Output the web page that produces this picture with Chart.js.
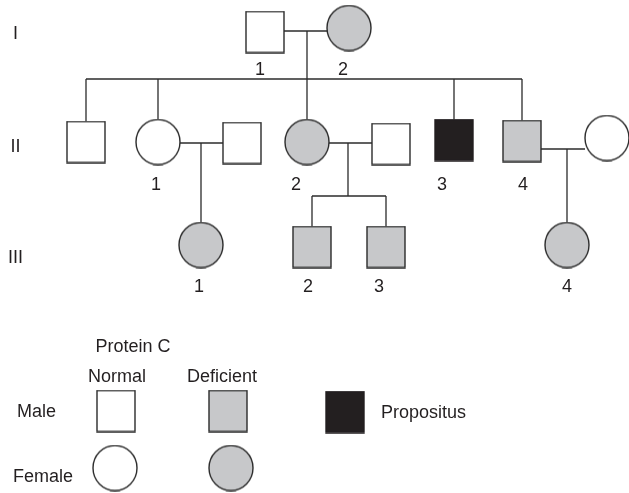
<!DOCTYPE html>
<html>
<head>
<meta charset="utf-8">
<title>Protein C pedigree</title>
<script src="https://cdn.jsdelivr.net/npm/chart.js@4.4.1/dist/chart.umd.min.js"></script>
<style>
  html, body { margin: 0; padding: 0; background: #fff; }
  #pedigree { display: block; }
</style>
</head>
<body>
<canvas id="pedigree" width="629" height="493"></canvas>
<script>
"use strict";

// Generations (row labels)
var genNames  = ["I", "II", "III"];
var genLabelX = 15.5;
var genLabelY = [34, 147, 258];

// Individuals
var ids       = ["I-1", "I-2", "II-a", "II-1", "II-1s", "II-2", "II-2s", "II-3", "II-4", "II-4s", "III-1", "III-2", "III-3", "III-4"];
var posX      = [265, 349, 86, 158, 242, 307, 391, 454, 522, 607, 201, 312, 386, 567];
var posY      = [32, 28, 142, 142, 143, 142, 144, 140, 141, 138, 245, 247, 247, 245];
var sexes     = ["M", "F", "M", "F", "M", "F", "M", "M", "M", "F", "F", "M", "M", "F"];
var affection = ["normal", "deficient", "normal", "normal", "normal", "deficient", "normal", "propositus", "deficient", "normal", "deficient", "deficient", "deficient", "deficient"];
var numbers   = ["1", "2", "", "1", "", "2", "", "3", "4", "", "1", "2", "3", "4"];
var numX      = [260, 343, 0, 156, 0, 296, 0, 442, 523, 0, 199, 308, 379, 567];
var numY      = [70, 70, 0, 185, 0, 185, 0, 185, 185, 0, 287, 287, 287, 287];

// Families: partners, line of marriage, line of sibship, children
var famPartners  = [["I-1", "I-2"], ["II-1", "II-1s"], ["II-2", "II-2s"], ["II-4", "II-4s"]];
var famMarriageY = [31, 143, 143, 149];
var famDropX     = [307, 201, 348, 567];
var famSibY      = [79, null, 196, null];
var famChildren  = [["II-a", "II-1", "II-2", "II-3", "II-4"], ["III-1"], ["III-2", "III-3"], ["III-4"]];

// Legend
var legendSex    = ["M", "M", "M", "F", "F"];
var legendStatus = ["normal", "deficient", "propositus", "normal", "deficient"];
var legendX      = [116, 228, 345, 115, 231];
var legendY      = [411, 411, 412, 468, 468];
var legendTexts  = ["Protein C", "Normal", "Deficient", "Male", "Female", "Propositus"];
var legendTextX  = [133, 117, 222, 17, 13, 381];
var legendTextY  = [347, 377, 377, 412, 477, 413];
var legendAlign  = ["center", "center", "center", "left", "left", "left"];


// Colours
var INK = "#2b2b2b";
var fills = { normal: "#ffffff", deficient: "#c7c8ca", propositus: "#231f20" };

// Symbol sizes
var SQ_W = 38, SQ_H = 41, CIR_W = 44, CIR_H = 45;

function halfHeight(s) {
    return (s === "M" ? SQ_H : CIR_H) / 2;
}
function halfWidth(s) {
    return (s === "M" ? SQ_W : CIR_W) / 2;
}

// Symbol pictures used as point styles
function makeSymbol(s, st) {
    var w = s === "M" ? SQ_W : CIR_W;
    var h = s === "M" ? SQ_H : CIR_H;
    var c = document.createElement("canvas");
    c.width = w + 2;
    c.height = h + 2;
    var g = c.getContext("2d");
    g.fillStyle = fills[st];
    g.strokeStyle = st === "propositus" ? fills[st] : INK;
    g.lineWidth = 1.4;
    g.beginPath();
    if (s === "M") {
        g.rect(1, 1, w, h);
    } else {
        g.ellipse(c.width / 2, c.height / 2, w / 2, h / 2, 0, 0, Math.PI * 2);
    }
    g.fill();
    g.stroke();
    return c;
}

var symbols = {};
["M", "F"].forEach(function (s) {
    ["normal", "deficient", "propositus"].forEach(function (st) {
        symbols[s + st] = makeSymbol(s, st);
    });
});

function idx(id) {
    return ids.indexOf(id);
}


// Connecting lines built from the families
var segments = [];
famPartners.forEach(function (pair, f) {
    var a = idx(pair[0]), b = idx(pair[1]);
    var left = posX[a] < posX[b] ? a : b;
    var right = left === a ? b : a;
    var my = famMarriageY[f];
    segments.push([{x: posX[left] + halfWidth(sexes[left]), y: my}, {x: posX[right] - halfWidth(sexes[right]), y: my}]);

    var kids = famChildren[f].map(idx);
    if (famSibY[f] === null) {
        var k = kids[0];
        segments.push([{x: posX[k], y: my}, {x: posX[k], y: posY[k] - halfHeight(sexes[k])}]);
        return;
    }
    var sy = famSibY[f];
    var dx = famDropX[f];
    segments.push([{x: dx, y: my}, {x: dx, y: sy}]);
    var xs = kids.map(function (k) { return posX[k]; }).concat([dx]);
    segments.push([{x: Math.min.apply(null, xs), y: sy}, {x: Math.max.apply(null, xs), y: sy}]);
    kids.forEach(function (k) {
        segments.push([{x: posX[k], y: sy}, {x: posX[k], y: posY[k] - halfHeight(sexes[k])}]);
    });
});


// Datasets: symbols first so they sit above the lines
var datasets = [];

ids.forEach(function (id, i) {
    datasets.push({
        label: id,
        data: [{x: posX[i], y: posY[i]}],
        pointStyle: symbols[sexes[i] + affection[i]],
        pointRadius: 1,
        pointHoverRadius: 1,
        showLine: false
    });
});

legendX.forEach(function (lx, i) {
    datasets.push({
        label: "legend " + i,
        data: [{x: lx, y: legendY[i]}],
        pointStyle: symbols[legendSex[i] + legendStatus[i]],
        pointRadius: 1,
        pointHoverRadius: 1,
        showLine: false
    });
});

segments.forEach(function (seg, i) {
    datasets.push({
        label: "line " + i,
        data: seg,
        showLine: true,
        borderColor: INK,
        borderWidth: 1.3,
        pointRadius: 0,
        pointHoverRadius: 0,
        fill: false
    });
});


// Texts: row labels, individual numbers, legend
var textPlugin = {
    id: "pedigreeText",
    afterDatasetsDraw: function (chart) {
        var ctx = chart.ctx;
        var sx = chart.scales.x, sy = chart.scales.y;
        ctx.save();
        ctx.fillStyle = "#231f20";
        ctx.font = "18px 'Liberation Sans', Arial, sans-serif";
        ctx.textBaseline = "middle";

        ctx.textAlign = "center";
        genNames.forEach(function (g, i) {
            ctx.fillText(g, sx.getPixelForValue(genLabelX), sy.getPixelForValue(genLabelY[i]));
        });

        numbers.forEach(function (n, i) {
            if (n) {
                ctx.fillText(n, sx.getPixelForValue(numX[i]), sy.getPixelForValue(numY[i]));
            }
        });

        legendTexts.forEach(function (t, i) {
            ctx.textAlign = legendAlign[i];
            ctx.fillText(t, sx.getPixelForValue(legendTextX[i]), sy.getPixelForValue(legendTextY[i]));
        });
        ctx.restore();
    }
};


var ctx = document.getElementById("pedigree").getContext("2d");
var pedigreeChart = new Chart(ctx, {
    type: "scatter",
    data: { datasets: datasets },
    options: {
        responsive: false,
        animation: false,
        events: [],
        layout: { padding: 0, autoPadding: false },
        scales: {
            x: { type: "linear", min: 0, max: 629, display: false },
            y: { type: "linear", min: 0, max: 493, reverse: true, display: false }
        },
        plugins: {
            legend: { display: false },
            tooltip: { enabled: false }
        }
    },
    plugins: [textPlugin]
});
</script>
</body>
</html>
